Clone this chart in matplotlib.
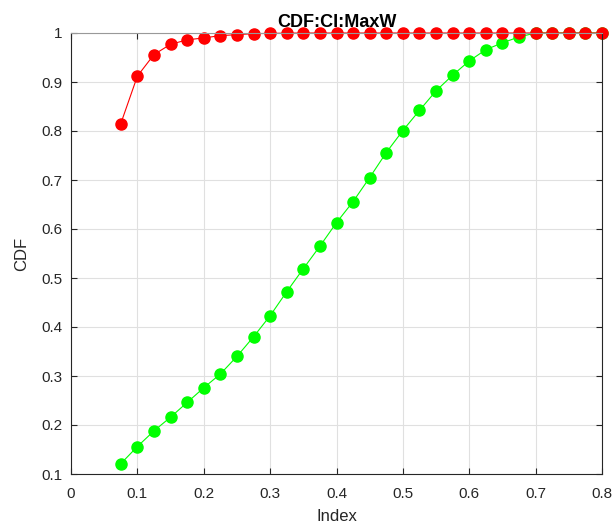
import matplotlib
matplotlib.use("Agg")
import matplotlib.pyplot as plt

# x positions shared by both series
index_vals = [0.075, 0.1, 0.125, 0.15, 0.175, 0.2, 0.225, 0.25, 0.275, 0.3,
              0.325, 0.35, 0.375, 0.4, 0.425, 0.45, 0.475, 0.5, 0.525, 0.55,
              0.575, 0.6, 0.625, 0.65, 0.675, 0.7, 0.725, 0.75, 0.775, 0.8]

cdf_green = [0.121, 0.156, 0.188, 0.216, 0.246, 0.276, 0.304, 0.340, 0.380, 0.423,
             0.472, 0.519, 0.565, 0.613, 0.656, 0.705, 0.756, 0.801, 0.842, 0.882,
             0.914, 0.943, 0.966, 0.980, 0.992, 1.0, 1.0, 1.0, 1.0, 1.0]

cdf_red = [0.815, 0.912, 0.956, 0.977, 0.986, 0.990, 0.9946, 0.9966, 0.9986, 0.9993,
           0.9997, 1.0, 1.0, 1.0, 1.0, 1.0, 1.0, 1.0, 1.0, 1.0,
           1.0, 1.0, 1.0, 1.0, 1.0, 1.0, 1.0, 1.0, 1.0, 1.0]

plt.rcParams['font.family'] = ['Liberation Sans', 'DejaVu Sans']
dark = (0.15, 0.15, 0.15)

fig = plt.figure(figsize=(6.15, 5.26), dpi=100)
ax = fig.add_axes([71 / 615, 1 - 474 / 526, (602 - 71) / 615, (474 - 33) / 526])

ax.plot(index_vals, cdf_green, '-o', color=(0, 1, 0), lw=0.8, markersize=8, clip_on=False)
ax.plot(index_vals, cdf_red, '-o', color=(1, 0, 0), lw=0.8, markersize=8, clip_on=False)

ax.set_xlim(0, 0.8)
ax.set_ylim(0.1, 1)
ax.set_xticks([0, 0.1, 0.2, 0.3, 0.4, 0.5, 0.6, 0.7, 0.8])
ax.set_xticklabels(['0', '0.1', '0.2', '0.3', '0.4', '0.5', '0.6', '0.7', '0.8'])
ax.set_yticks([0.1, 0.2, 0.3, 0.4, 0.5, 0.6, 0.7, 0.8, 0.9, 1])
ax.set_yticklabels(['0.1', '0.2', '0.3', '0.4', '0.5', '0.6', '0.7', '0.8', '0.9', '1'])

ax.grid(True, color=(0.88, 0.88, 0.88), lw=0.8)
ax.set_axisbelow(True)
ax.tick_params(direction='in', top=True, right=True, length=4, width=0.8,
               color=dark, labelsize=11, labelcolor=dark)
ax.tick_params(axis='x', pad=9)
ax.tick_params(axis='y', pad=6)
for side in ax.spines.values():
    side.set_color(dark)
    side.set_linewidth(0.8)
ax.spines['top'].set_color((0.6, 0.6, 0.6))

ax.set_xlabel('Index', fontsize=12, color=dark, labelpad=6)
ax.set_ylabel('CDF', fontsize=12, color=dark, labelpad=9)
ax.set_title('CDF:CI:MaxW', fontsize=13, fontweight='bold', pad=4.5)

fig.savefig('out.png', dpi=100)
